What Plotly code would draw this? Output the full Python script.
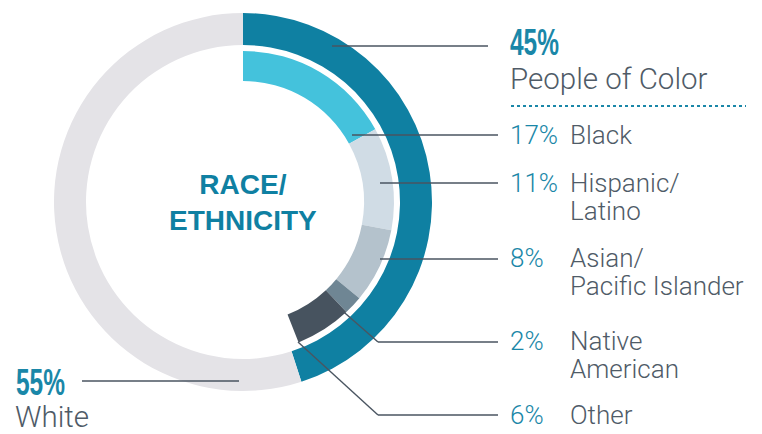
import plotly.graph_objects as go

# ---- data ----
outer_labels = ["People of Color", "White"]
outer_values = [45, 55]
inner_labels = ["Black", "Hispanic/<br>Latino", "Asian/<br>Pacific Islander", "Native<br>American", "Other"]
inner_values = [17, 11, 8, 2, 6]
center_title = "RACE/<br>ETHNICITY"

# ---- styles ----
W, H = 762, 434
TEAL = "#0f80a2"
TEAL_TXT = "#1a87a8"
GRAY_TXT = "#4f5b67"
LINE = "#4a5561"
outer_colors = [TEAL, "#e4e3e7"]
inner_colors = ["#44c2dc", "#d0dce5", "#b4c2cc", "#6f8694", "#47535f"]
LIGHT = "Roboto, Liberation Sans, Arial, sans-serif"

CX, CY = 243, 202
R_OUT, R_OUT_IN = 189, 157
R_IN, R_IN_IN = 151, 121


def px(x):
    return x / W


def py(y):
    return 1 - y / H


def dom(r):
    return dict(x=[px(CX - r), px(CX + r)], y=[py(CY + r), py(CY - r)])


fig = go.Figure()
fig.add_trace(go.Pie(
    labels=outer_labels, values=outer_values, sort=False, direction="clockwise",
    rotation=0, hole=R_OUT_IN / R_OUT, domain=dom(R_OUT),
    marker=dict(colors=outer_colors, line=dict(width=0)),
    textinfo="none", hoverinfo="label+percent", showlegend=False,
))
rest = 100 - sum(inner_values)
fig.add_trace(go.Pie(
    labels=inner_labels + [" "], values=inner_values + [rest], sort=False,
    direction="clockwise", rotation=0, hole=R_IN_IN / R_IN, domain=dom(R_IN),
    marker=dict(colors=inner_colors + ["rgba(0,0,0,0)"], line=dict(width=0)),
    textinfo="none", hoverinfo="skip", showlegend=False,
))

shapes = []


def seg(x0, y0, x1, y1, color=LINE, width=1.4, dash="solid"):
    shapes.append(dict(type="line", xref="paper", yref="paper",
                       x0=px(x0), y0=py(y0), x1=px(x1), y1=py(y1),
                       line=dict(color=color, width=width, dash=dash)))


# leader lines
seg(332, 46, 488, 46)
seg(352, 135, 498, 135)
seg(380, 183, 498, 183)
seg(380, 259, 498, 259)
seg(338, 307, 378, 342)
seg(378, 342, 498, 342)
seg(298, 342, 378, 415)
seg(378, 415, 498, 415)
seg(82, 381, 239, 381)
# dotted separator
seg(511, 106, 746, 106, color=TEAL_TXT, width=2, dash="dot")

ann = []


def text(x, y, t, size, color, bold=False, family="Liberation Sans, Arial, sans-serif",
         xanchor="left", align="left", weight=None):
    w = weight if weight is not None else ("bold" if bold else "normal")
    ann.append(dict(x=px(x), y=py(y), xref="paper", yref="paper", text=t, showarrow=False,
                    xanchor=xanchor, yanchor="middle", align=align,
                    font=dict(size=size, color=color, family=family, weight=w)))


BIG = 36  # big condensed percentages (squeezed horizontally below)
text(CX, CY, center_title, 28, TEAL, bold=True, xanchor="center", align="center")
text(508, 43, f"{outer_values[0]}%", BIG, TEAL_TXT, bold=True)
text(508, 79, outer_labels[0], 29.5, GRAY_TXT, family=LIGHT, weight=300)
text(14, 382, f"{outer_values[1]}%", BIG, TEAL_TXT, bold=True)
text(13, 417, outer_labels[1], 29.5, GRAY_TXT, family=LIGHT, weight=300)

label_y = [135, 183, 258, 341, 415]
LINE_GAP = 27.5
for lab, val, y in zip(inner_labels, inner_values, label_y):
    text(508, y, f"{val}%", 26, TEAL_TXT, family=LIGHT, weight=300)
    for i, part in enumerate(lab.split("<br>")):
        text(568, y + i * LINE_GAP, part, 26, GRAY_TXT, family=LIGHT, weight=300)

fig.update_layout(width=W, height=H, margin=dict(l=0, r=0, t=0, b=0),
                  paper_bgcolor="white", plot_bgcolor="white",
                  shapes=shapes, annotations=ann)

post = """
document.body.style.margin = '0';
document.body.style.padding = '0';
document.body.style.overflow = 'hidden';
var gd = document.getElementById('{plot_id}');
gd.querySelectorAll('text.annotation-text').forEach(function (t) {
  if (t.style.fontSize === '%dpx') {
    t.setAttribute('textLength', '%d');
    t.setAttribute('lengthAdjust', 'spacingAndGlyphs');
  }
});
""" % (BIG, 49)
fig.write_html("out.html", post_script=post, config={"displayModeBar": False})
